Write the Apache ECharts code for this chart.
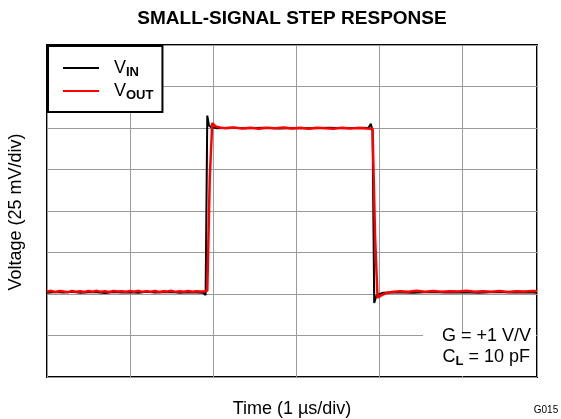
<!DOCTYPE html>
<html><head><meta charset="utf-8">
<script src="https://cdn.jsdelivr.net/npm/echarts@6/dist/echarts.min.js"></script>
<style>html,body{margin:0;padding:0;background:#fff}#c{width:561px;height:419px}</style>
</head><body><div id="c"></div>
<script>
// Time in microseconds, voltage in mV (25 mV / div)
var vinTime = [0,0.1,0.2,0.3,0.4,0.5,0.6,0.7,0.8,0.9,1.0,1.1,1.2,1.3,1.4,1.5,1.6,1.7,1.8,1.88,1.91,1.93,1.95,1.98,2.05,2.2,2.4,2.6,2.8,3.0,3.2,3.4,3.6,3.8,3.87,3.9,3.92,3.94,3.97,4.05,4.2,4.4,4.6,4.8,5.0,5.2,5.4,5.6,5.8,5.9];
var vinValue = [50.8,51.2,50.9,51.3,50.7,51.1,51.0,50.6,51.2,50.9,51.1,50.8,51.3,50.9,51.0,51.2,50.7,51.1,50.9,50.8,49.4,157.5,151.5,150.4,149.9,150.2,149.8,150.1,149.7,150.0,149.8,150.2,149.9,150.1,150.0,152.5,148.0,44.6,49.5,50.8,51.0,50.7,51.2,50.9,51.1,50.8,51.2,50.9,51.0,50.8];
var voutTime = [0,0.05,0.1,0.15,0.2,0.25,0.3,0.35,0.4,0.45,0.5,0.55,0.6,0.65,0.7,0.75,0.8,0.85,0.9,0.95,1.0,1.05,1.1,1.15,1.2,1.25,1.3,1.35,1.4,1.45,1.5,1.55,1.6,1.65,1.7,1.75,1.8,1.85,1.9,1.93,1.96,1.99,2.03,2.08,2.15,2.25,2.35,2.45,2.55,2.65,2.75,2.85,2.95,3.05,3.15,3.25,3.35,3.45,3.55,3.65,3.75,3.85,3.92,3.95,3.98,4.02,4.08,4.15,4.25,4.35,4.45,4.55,4.65,4.75,4.85,4.95,5.05,5.15,5.25,5.35,5.45,5.55,5.65,5.75,5.85,5.9];
var voutValue = [51.4,51.9,51.2,51.8,51.5,51.1,51.8,51.3,51.7,51.2,51.8,51.4,51.9,51.3,51.6,51.2,51.8,51.5,51.7,51.3,51.8,51.4,51.9,51.3,51.7,51.4,51.8,51.2,51.7,51.5,51.9,51.3,51.6,51.4,51.8,51.3,51.7,51.5,51.7,52.0,120.0,153.0,151.0,150.3,149.8,150.3,149.7,150.2,149.6,150.1,149.8,150.3,149.7,150.1,149.6,150.2,149.8,149.5,150.1,149.7,150.0,149.7,149.5,85.0,47.8,49.0,50.5,51.2,51.7,51.3,51.9,51.4,51.8,51.3,51.7,51.5,51.9,51.3,51.7,51.4,51.8,51.2,51.7,51.5,51.8,51.6];
var seriesNames = ['VIN','VOUT'];
var yMin = 0, yMax = 200, yStep = 25;
var xMin = 0, xMax = 5.9, xStep = 1;

function pairs(t, v){ return t.map(function(x,i){return [x, v[i]];}); }

var chart = echarts.init(document.getElementById('c'), null, {renderer:'canvas'});
var FONT = 'Liberation Sans, Arial, sans-serif';
chart.setOption({
  animation:false,
  backgroundColor:'#fff',
  grid:{left:47, top:45, width:490, height:332, show:true, borderColor:'#000', borderWidth:2, backgroundColor:'transparent'},
  xAxis:{type:'value', min:xMin, max:xMax, interval:xStep,
    axisLine:{show:false}, axisTick:{show:false}, axisLabel:{show:false},
    splitLine:{show:true, lineStyle:{color:'#9a9a9a', width:1}}},
  yAxis:{type:'value', min:yMin, max:yMax, interval:yStep,
    axisLine:{show:false}, axisTick:{show:false}, axisLabel:{show:false},
    splitLine:{show:true, lineStyle:{color:'#9a9a9a', width:1}}},
  legend:{orient:'vertical', left:48, top:46,
    backgroundColor:'#fff', borderColor:'#000', borderWidth:2, borderRadius:0,
    padding:[11,9,10,15], itemWidth:36, itemHeight:2, itemGap:1,
    data:[{name:seriesNames[0], icon:'rect'}, {name:seriesNames[1], icon:'rect'}],
    formatter:function(n){ return n==='VIN' ? '{a|V}{b|IN}' : '{a|V}{b|OUT}'; },
    textStyle:{color:'#000', fontFamily:FONT, padding:[0,0,0,10],
      rich:{a:{fontSize:18, fontFamily:FONT, color:'#000', lineHeight:20},
            b:{fontSize:13, fontWeight:'bold', fontFamily:FONT, color:'#000', padding:[9,0,0,0], lineHeight:20}}}
  },
  series:[
    {name:'VIN', type:'line', data:pairs(vinTime, vinValue), symbol:'none', lineStyle:{color:'#000', width:2}, itemStyle:{color:'#000'}, z:2},
    {name:'VOUT', type:'line', data:pairs(voutTime, voutValue), symbol:'none', lineStyle:{color:'#ff0000', width:2.5}, itemStyle:{color:'#ff0000'}, z:3}
  ],
  graphic:[
    {type:'text', x:292, y:19, style:{text:'SMALL-SIGNAL STEP RESPONSE', font:'bold 19px '+FONT, fill:'#000', textAlign:'center', textVerticalAlign:'middle'}},
    {type:'rect', shape:{x:423, y:334, width:113, height:42}, style:{fill:'#fff'}, z:10},
    {type:'text', x:531, y:336, style:{text:'G = +1 V/V', font:'18px '+FONT, fill:'#000', textAlign:'right', textVerticalAlign:'middle'}, z:11},
    {type:'text', x:530, y:357, style:{rich:{a:{fontSize:18, fontFamily:FONT, lineHeight:20}, b:{fontSize:13, fontWeight:'bold', fontFamily:FONT, padding:[9,0,0,0], lineHeight:20}}, text:'{a|C}{b|L}{a| = 10 pF}', fill:'#000', textAlign:'right', textVerticalAlign:'middle'}, z:11},
    {type:'text', x:16, y:212, rotation:Math.PI/2, style:{text:'Voltage (25 mV/div)', font:'18px '+FONT, fill:'#000', textAlign:'center', textVerticalAlign:'middle'}},
    {type:'text', x:292, y:409, style:{text:'Time (1 \u00b5s/div)', font:'18px '+FONT, fill:'#000', textAlign:'center', textVerticalAlign:'middle'}},
    {type:'text', x:546, y:410, style:{text:'G015', font:'10px '+FONT, fill:'#000', textAlign:'center', textVerticalAlign:'middle'}}
  ]
});
</script></body></html>
